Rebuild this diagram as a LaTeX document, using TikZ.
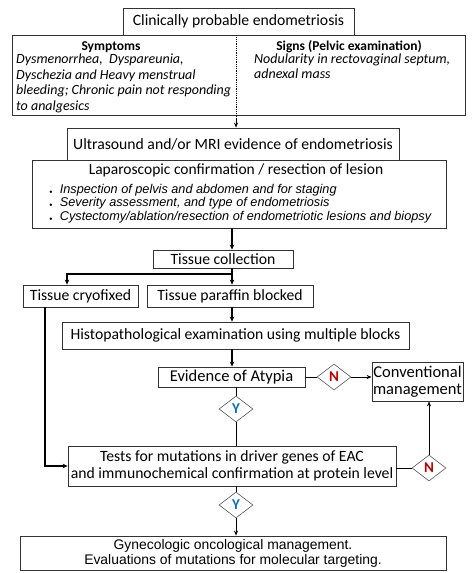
\documentclass[tikz,border=0pt]{standalone}
\usepackage{fontspec}
\setmainfont{Carlito}
\newfontfamily\arialfont{Liberation Sans}
\usetikzlibrary{positioning, shapes.geometric, arrows.meta}
\definecolor{nred}{HTML}{C00000}
\definecolor{yblue}{HTML}{0070C0}

\begin{document}
\begin{tikzpicture}[x=1pt, y=-1pt,
  box/.style = {draw=black!80, line width=0.8pt, inner sep=1pt, font=\fontsize{15.7}{17}\selectfont},
  dec/.style = {draw=black!65, line width=0.6pt, diamond, minimum width=34pt, minimum height=26pt, inner sep=0pt, font=\bfseries\fontsize{15}{15}\selectfont},
  flow/.style = {line width=1.6pt, -{Stealth[length=5pt, width=4.5pt]}},
  lightflow/.style = {line width=0.8pt, -{Stealth[length=5pt, width=4pt]}}]
\fill[white] (0,0) rectangle (474,573);
\useasboundingbox (0,0) rectangle (474,573);

\coordinate (mx) at (232,0);
\node[box, minimum width=231pt, minimum height=27pt] (clin) at (238.5,21.5) {Clinically probable endometriosis};
\node[box, minimum width=453pt, minimum height=80pt] (sgn) at (238.5,75) {};
\node[font=\bfseries\fontsize{13.5}{15}\selectfont] (symh) at (111,47) {Symptoms};
\node[font=\bfseries\fontsize{13.5}{15}\selectfont] (sigh) at (349,47) {Signs (Pelvic examination)};
\node[anchor=north west, align=left, inner sep=0pt, font=\itshape\fontsize{14}{15.7}\selectfont] (symt) at (16,53.5)
  {Dysmenorrhea,\ \ Dyspareunia,\\ Dyschezia and Heavy menstrual\\ bleeding; Chronic pain not responding\\ to analgesics};
\node[anchor=north west, align=left, inner sep=0pt, font=\itshape\fontsize{14}{15}\selectfont] (sigt) at (254,53.5)
  {Nodularity in rectovaginal septum,\\ adnexal mass};
\coordinate (dv) at (236,119);

\node[box, minimum width=332pt, minimum height=32pt] (us) at (233,144) {Ultrasound and/or MRI evidence of endometriosis};
\node[box, minimum width=414pt, minimum height=68pt] (lap) at (239,194) {};
\node[font=\fontsize{15.5}{17}\selectfont] (laph) at (236,170) {Laparoscopic confirmation / resection of lesion};
\node[anchor=north west, align=left, inner sep=0pt, font=\arialfont\itshape\fontsize{12.7}{13.5}\selectfont] (lapt) at (49,184)
  {\textup{\tiny$\bullet$}\hspace{7pt}Inspection of pelvis and abdomen and for staging\\
   \textup{\tiny$\bullet$}\hspace{7pt}Severity assessment, and type of endometriosis\\
   \textup{\tiny$\bullet$}\hspace{7pt}Cystectomy/ablation/resection of endometriotic lesions and biopsy};

\node[box, minimum width=140pt, minimum height=18pt] (tc) at (223,259) {Tissue collection};
\coordinate (sp) at (232,274);
\coordinate (cx) at (67,274);
\node[box, minimum width=115pt, minimum height=22pt] (cryo) at (80.5,296) {Tissue cryofixed};
\node[box, minimum width=166pt, minimum height=22pt] (para) at (230,296) {Tissue paraffin blocked};
\node[box, minimum width=347pt, minimum height=27pt] (histo) at (235.5,335.5) {Histopathological examination using multiple blocks};
\node[box, minimum width=147pt, minimum height=20pt, font=\fontsize{16.5}{17}\selectfont] (evid) at (231.5,377) {Evidence of Atypia};
\node[dec, text=nred] (n1) at (334,377) {N};
\node[box, minimum width=91pt, minimum height=39pt, inner sep=0pt, align=center, font=\fontsize{16.5}{17}\selectfont] (conv) at (417.5,381.5) {Conventional\\ management};
\node[dec, text=yblue] (y1) at (236,409) {Y};
\node[box, minimum width=328pt, minimum height=40pt, align=center, font=\fontsize{15.7}{17}\selectfont] (tests) at (232,466)
  {Tests for mutations in driver genes of EAC\\ and immunochemical confirmation at protein level};
\node[dec, text=nred] (n2) at (429,468) {N};
\coordinate (cb) at (45,466);
\node[dec, text=yblue] (y2) at (236,505) {Y};
\node[box, minimum width=426pt, minimum height=34pt, align=center, font=\arialfont\fontsize{13.9}{15}\selectfont] (gyn) at (233,553)
  {Gynecologic oncological management.\\ Evaluations of mutations for molecular targeting.};

\draw[line width=0.8pt, densely dotted] (clin.south -| dv) -- (dv);
\draw[lightflow] (dv) -- (us.north -| dv);
\draw[flow] (lap.south -| mx) -- (tc.north -| mx);
\draw[flow] (tc.south -| sp) -- (sp) -- (cx) -- (cryo.north -| cx);
\draw[flow] (sp) -- (para.north -| sp);
\draw[flow] (cryo.south -| cb) -- (cb) -- (tests.west);
\draw[flow] (para.south -| mx) -- (histo.north -| mx);
\draw[flow] (histo.south -| mx) -- (evid.north -| mx);
\draw[line width=0.8pt] (evid.east) -- (n1.west);
\draw[lightflow] (n1.east) -- (conv.west |- n1.east);
\draw[line width=0.8pt] (evid.south -| y1) -- (y1.north);
\draw[line width=0.8pt] (y1.south) -- (tests.north -| y1);
\draw[line width=0.8pt] (tests.east |- n2) -- (n2.west);
\draw[lightflow] (n2.north) -- (conv.south -| n2);
\draw[line width=0.8pt] (tests.south -| y2) -- (y2.north);
\draw[lightflow] (y2.south) -- (gyn.north -| y2);
\end{tikzpicture}
\end{document}
